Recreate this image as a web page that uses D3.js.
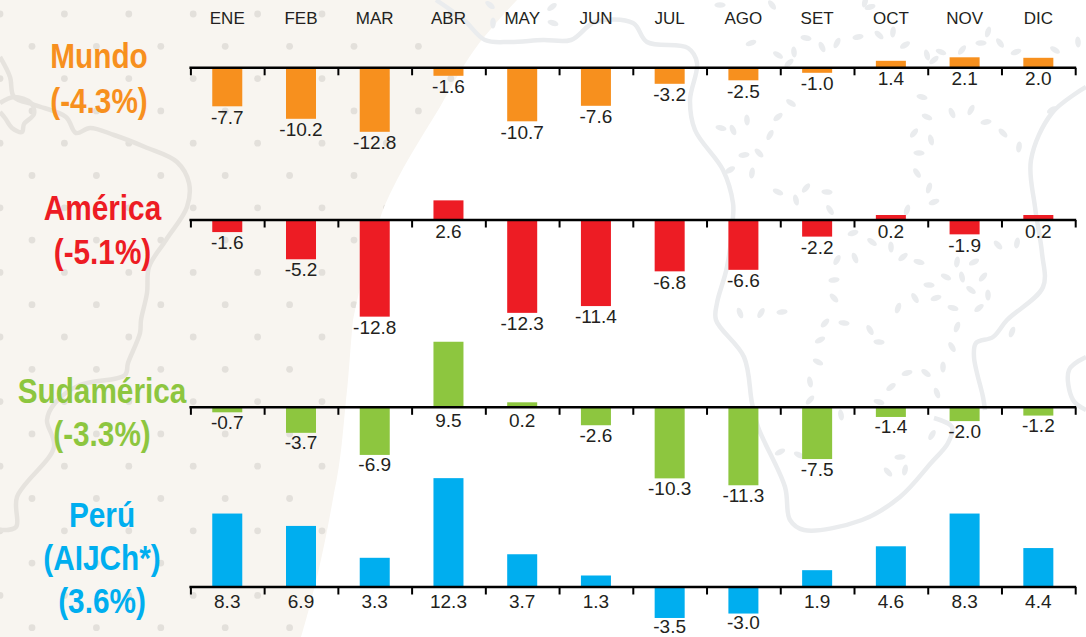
<!DOCTYPE html>
<html lang="es">
<head>
<meta charset="utf-8">
<title>Variación mensual</title>
<script src="https://cdn.jsdelivr.net/npm/d3@7"></script>
<style>
html,body{margin:0;padding:0;background:#fff;overflow:hidden}
svg{display:block}
text{font-family:"Liberation Sans",Arial,sans-serif}
</style>
</head>
<body>
<svg id="chart" width="1086" height="637"></svg>
<script>
const months = ["ENE","FEB","MAR","ABR","MAY","JUN","JUL","AGO","SET","OCT","NOV","DIC"];
const mundo = [-7.7,-10.2,-12.8,-1.6,-10.7,-7.6,-3.2,-2.5,-1.0,1.4,2.1,2.0];
const america = [-1.6,-5.2,-12.8,2.6,-12.3,-11.4,-6.8,-6.6,-2.2,0.2,-1.9,0.2];
const sudamerica = [-0.7,-3.7,-6.9,9.5,0.2,-2.6,-10.3,-11.3,-7.5,-1.4,-2.0,-1.2];
const peru = [8.3,6.9,3.3,12.3,3.7,1.3,-3.5,-3.0,1.9,4.6,8.3,4.4];
const titleMundo = ["Mundo","(-4.3%)"];
const titleAmerica = ["América","(-5.1%)"];
const titleSudamerica = ["Sudamérica","(-3.3%)"];
const titlePeru = ["Perú","(AIJCh*)","(3.6%)"];

const panels = [
  {values:mundo, title:titleMundo, color:"#F7901E", zero:67.8, unit:5.0, posLabel:17.5, negLabel:17.2, tx:99, ty:[68,112.5]},
  {values:america, title:titleAmerica, color:"#ED1C24", zero:220, unit:7.55, posLabel:17.5, negLabel:17.2, tx:102.5, ty:[220,264]},
  {values:sudamerica, title:titleSudamerica, color:"#8DC63F", zero:407.3, unit:6.9, posLabel:20, negLabel:16.5, tx:102, ty:[403,446]},
  {values:peru, title:titlePeru, color:"#00AEEF", zero:587, unit:8.85, posLabel:20.5, negLabel:15, tx:102, ty:[527,570,612.5]}
];

const svg = d3.select("#chart");
const left = 190.4, right = 1075.2;
const x = d3.scaleBand().domain(months).range([left,right]).paddingInner(0.593).paddingOuter(0.2965);
const tickPos = d3.scaleLinear().domain([0,months.length]).range([left,right]);

/* ---------- decorative background ---------- */
const bg = svg.append("g").attr("class","background");
const defs = svg.append("defs");
const beigeShape = "M0,0L517,0C500,18 490,30 480,42C465,62 455,80 440,107C420,140 400,170 384,207C370,245 360,285 353,320C350,350 349,375 346,400C343,430 341,462 334,493C325,545 315,590 301,637L0,637Z";
defs.append("clipPath").attr("id","beigeClip").append("path").attr("d",beigeShape);
bg.append("path").attr("d",beigeShape).attr("fill","#F8F5F0");

const dots = bg.append("g").attr("clip-path","url(#beigeClip)").attr("fill","#E3E0DB");
d3.range(20).forEach(r=>{
  d3.range(9).forEach(c=>{
    dots.append("circle")
      .attr("cx",(r%2?32:0)+c*64.4)
      .attr("cy",14+r*32.3)
      .attr("r",3.4);
  });
});

const curve = d3.line().curve(d3.curveCatmullRom.alpha(0.5));
const beigeLines = [
  [[0,57],[10,77],[14,97],[35,105],[66,117],[76,133],[90,128],[114,135],[145,147],[177,162],[189,183],[187,207],[166,240],[149,267],[147,293],[141,320],[140,333],[128,363],[125,375],[80,385],[55,403],[47,420],[54,447],[17,497],[16,527],[0,530]],
  [[0,103],[14,97],[31,103],[34,114],[24,124],[22,132],[12,128],[5,118],[0,112]]
];
const whiteLines = [
  [[436,0],[464,20],[485,40],[510,42],[543,40],[571,40],[595,22],[633,23],[647,42],[688,48],[697,63],[690,100],[695,130],[723,170],[733,203],[733,217],[727,267],[717,303],[716,320],[744,357],[752,403],[758,427],[785,487],[790,520],[804,530],[862,520],[900,497],[931,463],[948,443],[952,427],[934,418]],
  [[1086,87],[1052,113],[1031,160],[1035,207],[1042,253],[1043,287],[1007,320],[993,337],[976,343],[974,357],[983,397],[985,410]],
  [[1086,357],[1069,370],[1073,400],[1086,410]]
];
bg.selectAll("path.bl").data(beigeLines).join("path").attr("class","bl")
  .attr("d",curve).attr("fill","none").attr("stroke","#E6E3DE").attr("stroke-width",4.5).attr("stroke-linejoin","round");
bg.selectAll("path.wl").data(whiteLines).join("path").attr("class","wl")
  .attr("d",curve).attr("fill","none").attr("stroke","#EAECEE").attr("stroke-width",4.5).attr("stroke-linejoin","round");

const leaves = [
 [720,5],[772,5],[865,2],[751,43],[778,55],[794,52],[789,63],[806,38],[822,47],[837,43],[858,37],[879,35],[893,32],[905,45],[941,52],[927,55],[962,50],[981,43],[1000,43],[988,32],[1016,52],[1055,50],[1078,42],[934,60],[922,97],[952,113],[971,110],[986,122],[1003,133],[1019,147],[1052,110],[927,117],[931,140],[914,133],[919,153],[917,173],[929,188],[934,202],[791,103],[747,120],[778,117],[721,128],[733,130],[770,135],[744,155],[759,153],[752,173],[730,170],[778,192],[796,200],[806,188],[827,192],[830,210],[907,210],[853,233],[872,242],[891,247],[903,257],[919,262],[855,258],[837,260],[834,280],[834,298],[957,262],[974,262],[946,277],[962,277],[983,277],[929,285],[915,298],[898,308],[936,298],[971,290],[988,295],[979,308],[953,308],[740,313],[761,313],[782,312],[998,245],[1017,243],
 [820,340],[818,362],[810,382],[810,400],[879,342],[952,347],[957,327],[907,373],[926,373],[943,367],[891,387],[879,402],[937,393],[932,435],[900,457],[888,472],[905,470],[780,452],[799,455],[841,415],[825,323],[844,323],[870,330],[1012,332],
 [870,7],[490,5],[493,23],[552,7],[553,23]
];
bg.append("g").attr("fill","#EAECEE").selectAll("ellipse").data(leaves).join("ellipse")
  .attr("cx",d=>d[0]).attr("cy",d=>d[1]).attr("rx",5.6).attr("ry",2.8)
  .attr("transform",(d,i)=>`rotate(${(i*53)%180} ${d[0]} ${d[1]})`);

/* ---------- month headers ---------- */
const headerAxis = d3.axisTop(x).tickSize(0).tickPadding(0);
const header = svg.append("g").attr("transform","translate(0,24.3)").call(headerAxis);
header.select(".domain").remove();
header.selectAll("text").attr("font-size",17).attr("fill","#231F20")
  .style("font-family",'"Liberation Sans",Arial,sans-serif').attr("dy",0).attr("y",0);

/* ---------- panels ---------- */
const minBar = 5;
panels.forEach(p=>{
  const y = d3.scaleLinear().domain([0,1]).range([p.zero,p.zero-p.unit]);
  const g = svg.append("g").attr("class","panel");
  const len = v => Math.max(minBar,Math.abs(y(v)-y(0)));

  g.selectAll("rect").data(p.values).join("rect")
    .attr("x",(d,i)=>x(months[i]))
    .attr("width",x.bandwidth())
    .attr("y",d=>d>=0?y(0)-len(d):y(0))
    .attr("height",d=>len(d))
    .attr("fill",p.color);

  const axis = d3.axisBottom(tickPos).tickValues(d3.range(months.length+1)).tickFormat("").tickSize(7.5).tickSizeOuter(0);
  const ag = g.append("g").attr("transform",`translate(0,${p.zero})`).call(axis);
  ag.select(".domain").attr("stroke","#000").attr("stroke-width",2.6).attr("d",`M${left-1},0H${right+1}`);
  ag.selectAll(".tick line").attr("stroke","#000").attr("stroke-width",2);

  g.selectAll("text.val").data(p.values).join("text").attr("class","val")
    .attr("x",(d,i)=>x(months[i])+x.bandwidth()/2)
    .attr("y",d=>d>=0?y(0)+p.posLabel:y(0)+len(d)+p.negLabel)
    .attr("text-anchor","middle").attr("font-size",19).attr("fill","#231F20")
    .text(d=>d.toFixed(1));

  g.selectAll("text.ttl").data(p.title).join("text").attr("class","ttl")
    .attr("transform",(d,i)=>`translate(${p.tx},${p.ty[i]}) scale(0.85,1)`)
    .attr("text-anchor","middle").attr("font-size",35).attr("font-weight",700).attr("fill",p.color)
    .text(d=>d);
});
</script>
</body>
</html>
